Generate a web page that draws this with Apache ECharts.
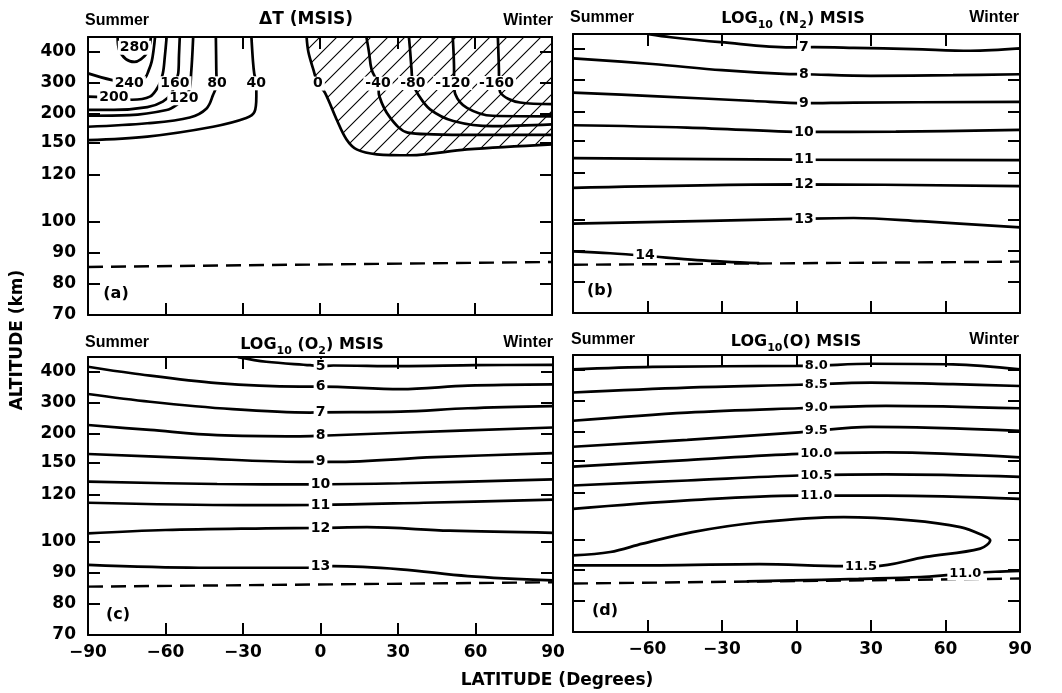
<!DOCTYPE html>
<html>
<head>
<meta charset="utf-8">
<title>MSIS contours</title>
<script src="https://cdn.jsdelivr.net/npm/echarts@6/dist/echarts.min.js"></script>
<style>
  html, body { margin: 0; padding: 0; background: #fff; }
  #main { width: 1062px; height: 693px; }
</style>
</head>
<body>
<div id="main"></div>
<script>
// altitude axis is stretched, not linear: labels and where they sit (0 = 70 km, 278 = top of frame)
var altTicks = [70, 80, 90, 100, 120, 150, 200, 300, 400];
var altTickPos = [0, 31, 62, 93, 140, 172, 201, 232, 263];
var latTicks = [-90, -60, -30, 0, 30, 60, 90];

// (a) delta T, [lat, km]
var dT280 = [[-78.5,448],[-78,409],[-75.3,377],[-72,368],[-69.4,377],[-67.1,397],[-66,425],[-65.6,448]];
var dT240 = [[-90,331],[-81,310],[-74,300],[-68,316],[-66.5,340],[-65.3,369],[-64.5,410],[-64,448]];
var dT200 = [[-90,256],[-80,253],[-73,246],[-66,256],[-62.8,288],[-61,330],[-60.2,385],[-59.5,448]];
var dT160 = [[-90,213],[-80,213],[-67,222],[-61,240],[-57.6,267],[-56.3,299],[-55,331],[-54.7,390],[-54.4,448]];
var dT120 = [[-90,197],[-74,198],[-59.5,213],[-55.7,229],[-52.8,251],[-50.5,283],[-50,330],[-49.6,380],[-49.2,448]];
var dT80 = [[-90,178],[-67,184],[-50.5,194],[-44,218],[-41.5,261],[-40,299],[-40.2,331],[-40.3,390],[-40.4,448]];
var dT40 = [[-90,155],[-67,161],[-41.5,178],[-28.6,193],[-25.4,207],[-24.7,256],[-24.7,299],[-25.5,330],[-26,370],[-26.6,448]];
var dT0 = [[-5.2,448],[-4.5,400],[-2.6,344],[-0.8,298],[1.9,269],[6.4,191],[10.3,156],[14.2,144],[22,139.4],[35,138.5],[57,144],[90,148.8]];
var dTm40 = [[18,448],[19,400],[20,344],[22.5,298],[23,258],[27,195],[34,168],[44,165],[60,164],[90,164]];
var dTm80 = [[34.5,448],[35,400],[35.5,345],[36,300],[38,264],[42.7,215],[51.7,188],[67,179],[90,182]];
var dTm120 = [[51.5,448],[51.8,400],[52,345],[52,300],[52.5,264],[57,220],[67,197],[90,196]];
var dTm160 = [[69,448],[69.2,400],[69.4,345],[69.5,300],[70,269],[77.6,237],[90,232]];
var dTLabels = [[-72,414,'280'],[-74,299,'240'],[-80,253,'200'],[-56.3,299,'160'],[-52.8,251,'120'],
  [-40,299,'80'],[-24.7,299,'40'],[-0.8,298,'0'],[22.5,298,'-40'],[36,300,'-80'],[51.5,300,'-120'],[68.5,300,'-160']];
var dTDash = [[-90,85.5],[90,87.1]];

// (b) log10 N2
var n2_7 = [[-59.5,448],[-50.6,438],[-30.5,422],[-2.4,405.5],[7,406],[23,404],[47,400],[70,394.5],[90,402]];
var n2_8 = [[-90,370],[-58,352],[-30,332],[-5,320],[3,319],[30,314],[63,316],[90,319]];
var n2_9 = [[-90,260],[-58,249],[-17,233],[3,226],[23,228],[90,230]];
var n2_10 = [[-90,176],[-44,172],[-4,165],[3,164.5],[40,165],[90,168]];
var n2_11 = [[-90,133.5],[0,132],[90,131.5]];
var n2_12 = [[-90,113.5],[0,115],[90,114.2]];
var n2_13 = [[-90,98.7],[0,100.3],[23,100.7],[50,99.5],[90,97.5]];
var n2_14 = [[-90,89.8],[-75,89.2],[-61,88.4],[-40,87],[-15,86]];
var n2Labels = [[3,405.5,'7'],[3,319,'8'],[3,226,'9'],[3,164.5,'10'],[3,132,'11'],[3,115,'12'],[3,100.3,'13'],[-61,88.4,'14']];
var n2Dash = [[-90,85.5],[90,86.5]];

// (c) log10 O2
var o2_5 = [[-32,448],[-21,433],[-4,422],[0,419],[5,421],[31,419],[60,422],[90,423]];
var o2_6 = [[-90,417],[-73,396],[-40,364],[-8,353],[0,353],[31,345],[57,356],[90,360]];
var o2_7 = [[-90,329],[-66,304],[-34,280],[-4,269],[0,270],[31,272],[57,283],[90,290]];
var o2_8 = [[-90,229],[-66,213],[-40,198],[-8,196],[0,197],[31,204],[90,221]];
var o2_9 = [[-90,165.5],[-47,158],[-8,152],[5,152],[44,160],[90,167]];
var o2_10 = [[-90,132.5],[-40,130.3],[-4,130],[31,131],[90,134.7]];
var o2_11 = [[-90,116.7],[-30,115.7],[0,115.8],[40,116.7],[90,118]];
var o2_12 = [[-90,103.7],[-60,105.1],[-21,105.8],[0,106],[18,106.3],[50,104.8],[90,103.9]];
var o2_13 = [[-90,92.6],[-47,91.7],[-5,91.7],[5,92.2],[31,91.2],[57,89],[90,87.6]];
var o2Labels = [[0,419,'5'],[0,353,'6'],[0,270,'7'],[0,197,'8'],[0,152,'9'],[0,130,'10'],[0,115.8,'11'],[0,106,'12'],[0,92,'13']];
var o2Dash = [[-90,85.6],[90,87]];

// (d) log10 O
var o_80 = [[-90,402],[-58,410],[0,413],[8,414],[30,420],[63,418],[90,402]];
var o_85 = [[-90,327],[-44,343],[1,352],[30,359],[63,354],[90,348]];
var o_90 = [[-90,235.5],[-44,262],[1,276],[36,284],[90,276]];
var o_95 = [[-90,174],[-44,186],[1,199],[30,216],[90,203]];
var o_100 = [[-90,144.4],[-44,151],[1,161.6],[36,164.3],[90,155.7]];
var o_105 = [[-90,126.6],[-44,131.3],[1,136],[36,137],[90,134.7]];
var o_110 = [[-90,113],[-44,116.6],[1,118.7],[36,118.7],[90,117.3]];
var o_115 = [[-90,94.8],[-75,95.9],[-62,98.6],[-42,103.1],[-15,107.3],[19,109.5],[46,108.1],[66,105.2],[75,101.7],[78,99.7],
  [74,97],[52,94.3],[31,91.3],[19,91.3],[-15,92],[-55,91.6],[-90,91.6]];
var o_110low = [[-20,86.4],[10,86.9],[25,87.2],[50,87.8],[62,88.5],[70,89],[80,89.5],[90,89.8]];
var oLabels = [[8,414,'8.0'],[8,353,'8.5'],[8,278,'9.0'],[8,202,'9.5'],[8,162.5,'10.0'],[8,136.2,'10.5'],[8,118.7,'11.0'],[26,91.3,'11.5'],[68,88.8,'11.0']];
var oDash = [[-90,85.7],[90,87.3]];

function altToV(a) {
  var n = altTicks.length;
  for (var i = 1; i < n; i++) {
    if (a <= altTicks[i]) {
      var t = (a - altTicks[i - 1]) / (altTicks[i] - altTicks[i - 1]);
      return altTickPos[i - 1] + t * (altTickPos[i] - altTickPos[i - 1]);
    }
  }
  return altTickPos[n - 1] + (a - altTicks[n - 1]) * (altTickPos[n - 1] - altTickPos[n - 2]) / (altTicks[n - 1] - altTicks[n - 2]);
}

// hatching for the negative dT region
var hatch = document.createElement('canvas');
hatch.width = hatch.height = 17;
var hc = hatch.getContext('2d');
hc.strokeStyle = '#000';
hc.lineWidth = 1.1;
hc.beginPath();
hc.moveTo(0, 17); hc.lineTo(17, 0);
hc.moveTo(-2, 2); hc.lineTo(2, -2);
hc.moveTo(15, 19); hc.lineTo(19, 15);
hc.stroke();

var grids = [
  {left: 88, top: 37, width: 464, height: 278},
  {left: 573, top: 34, width: 447, height: 279},
  {left: 88, top: 357, width: 465, height: 278},
  {left: 573, top: 355, width: 447, height: 277}
];

var numFont = 'DejaVu Sans';
var axisLine = {show: true, onZero: false, lineStyle: {color: '#000', width: 2}};
var tick = {show: true, inside: true, length: 12, lineStyle: {color: '#000', width: 2}};
var xAxes = [], yAxes = [];
grids.forEach(function (g, i) {
  var bottomRow = i >= 2, leftCol = i % 2 === 0;
  xAxes.push({
    type: 'value', gridIndex: i, min: -90, max: 90, interval: 30, position: 'bottom',
    axisLine: axisLine, axisTick: tick, splitLine: {show: false},
    axisLabel: {
      show: bottomRow, showMinLabel: leftCol, margin: 9, color: '#000',
      fontFamily: numFont, fontWeight: 'bold', fontSize: 17,
      formatter: function (v) { return v < 0 ? '\u2212' + (-v) : '' + v; }
    }
  });
  xAxes.push({
    type: 'value', gridIndex: i, min: -90, max: 90, interval: 30, position: 'top',
    axisLine: axisLine, axisTick: tick, splitLine: {show: false}, axisLabel: {show: false}
  });
  yAxes.push({
    type: 'value', gridIndex: i, min: 0, max: 278, position: 'left',
    axisLine: axisLine, splitLine: {show: false},
    axisTick: Object.assign({customValues: altTickPos}, tick),
    axisLabel: {
      show: leftCol, customValues: altTickPos, margin: 12, color: '#000',
      fontFamily: numFont, fontWeight: 'bold', fontSize: 17,
      formatter: function (v) { var k = altTickPos.indexOf(v); return k >= 0 ? '' + altTicks[k] : ''; }
    }
  });
  yAxes.push({
    type: 'value', gridIndex: i, min: 0, max: 278, position: 'right',
    axisLine: axisLine, splitLine: {show: false},
    axisTick: Object.assign({customValues: altTickPos}, tick),
    axisLabel: {show: false}
  });
});

function contour(pts, g, extra) {
  return Object.assign({
    type: 'line', xAxisIndex: 2 * g, yAxisIndex: 2 * g,
    data: pts.map(function (p) { return [p[0], altToV(p[1])]; }),
    symbol: 'none', showSymbol: false, smooth: 0.35, silent: true, z: 3,
    lineStyle: {color: '#000', width: 2.7}
  }, extra || {});
}
function dashed(pts, g) {
  return contour(pts, g, {smooth: false, lineStyle: {color: '#000', width: 2.4, type: [15, 8]}});
}
function labels(list, g, size) {
  return {
    type: 'scatter', xAxisIndex: 2 * g, yAxisIndex: 2 * g, symbolSize: 1, silent: true, z: 6,
    itemStyle: {color: 'rgba(255,255,255,0)', opacity: 1},
    data: list.map(function (p) { return [p[0], altToV(p[1]), p[2]]; }),
    label: {
      show: true, position: 'inside', color: '#000', opacity: 1, textBorderWidth: 0,
      fontFamily: numFont, fontWeight: 'bold',
      fontSize: size, backgroundColor: '#fff', padding: [0, 2],
      formatter: function (d) { return d.value[2]; }
    }
  };
}

var series = [];
[dT280, dT240, dT200, dT160, dT120, dT80, dT40, dTm40, dTm80, dTm120, dTm160].forEach(function (c) { series.push(contour(c, 0)); });
series.push(contour(dT0, 0, {areaStyle: {origin: 'end', opacity: 1, color: {image: hatch, repeat: 'repeat'}}}));
series.push(dashed(dTDash, 0));
series.push(labels(dTLabels, 0, 14));

[n2_7, n2_8, n2_9, n2_10, n2_11, n2_12, n2_13, n2_14].forEach(function (c) { series.push(contour(c, 1)); });
series.push(dashed(n2Dash, 1));
series.push(labels(n2Labels, 1, 14));

[o2_5, o2_6, o2_7, o2_8, o2_9, o2_10, o2_11, o2_12, o2_13].forEach(function (c) { series.push(contour(c, 2)); });
series.push(dashed(o2Dash, 2));
series.push(labels(o2Labels, 2, 14));

[o_80, o_85, o_90, o_95, o_100, o_105, o_110, o_115, o_110low].forEach(function (c) { series.push(contour(c, 3)); });
series.push(dashed(oDash, 3));
series.push(labels(oLabels, 3, 13));

var wordFont = 'bold 16px "Liberation Sans", Arial, sans-serif';
var headFont = 'bold 16px "DejaVu Sans", sans-serif';
function txt(x, y, s, align, font, rot) {
  return {
    type: 'text', x: x, y: y, rotation: rot || 0, silent: true,
    style: {text: s, font: font, fill: '#000', align: align, textAlign: align, verticalAlign: 'middle', textVerticalAlign: 'middle'}
  };
}
var subRich = {
  m: {fontFamily: 'DejaVu Sans', fontWeight: 'bold', fontSize: 16, lineHeight: 24, verticalAlign: 'middle'},
  s: {fontFamily: 'DejaVu Sans', fontWeight: 'bold', fontSize: 11, lineHeight: 12, verticalAlign: 'bottom'}
};
function richTxt(x, y, s) {
  return {
    type: 'text', x: x, y: y, silent: true,
    style: {text: s, rich: subRich, fill: '#000', align: 'center', textAlign: 'center', verticalAlign: 'middle', textVerticalAlign: 'middle'}
  };
}

var graphics = [
  txt(85, 21, 'Summer', 'left', wordFont), txt(553, 21, 'Winter', 'right', wordFont),
  txt(306, 20, '\u0394T (MSIS)', 'center', 'bold 17px "DejaVu Sans", sans-serif'),
  txt(570, 18, 'Summer', 'left', wordFont), txt(1019, 18, 'Winter', 'right', wordFont),
  richTxt(793, 19, '{m|LOG}{s|10}{m| (N}{s|2}{m|) MSIS}'),
  txt(85, 343, 'Summer', 'left', wordFont), txt(553, 343, 'Winter', 'right', wordFont),
  richTxt(312, 345, '{m|LOG}{s|10}{m| (O}{s|2}{m|) MSIS}'),
  txt(571, 340, 'Summer', 'left', wordFont), txt(1019, 340, 'Winter', 'right', wordFont),
  richTxt(796, 342, '{m|LOG}{s|10}{m|(O) MSIS}'),
  txt(116, 294, '(a)', 'center', headFont), txt(600, 291, '(b)', 'center', headFont),
  txt(118, 615, '(c)', 'center', headFont), txt(605, 611, '(d)', 'center', headFont),
  txt(18, 340, 'ALTITUDE (km)', 'center', 'bold 17px "DejaVu Sans", sans-serif', Math.PI / 2),
  txt(557, 681, 'LATITUDE (Degrees)', 'center', 'bold 17px "DejaVu Sans", sans-serif')
];

var chart = echarts.init(document.getElementById('main'));
chart.setOption({
  animation: false,
  backgroundColor: '#fff',
  grid: grids,
  xAxis: xAxes,
  yAxis: yAxes,
  series: series,
  graphic: graphics
});
</script>
</body>
</html>
